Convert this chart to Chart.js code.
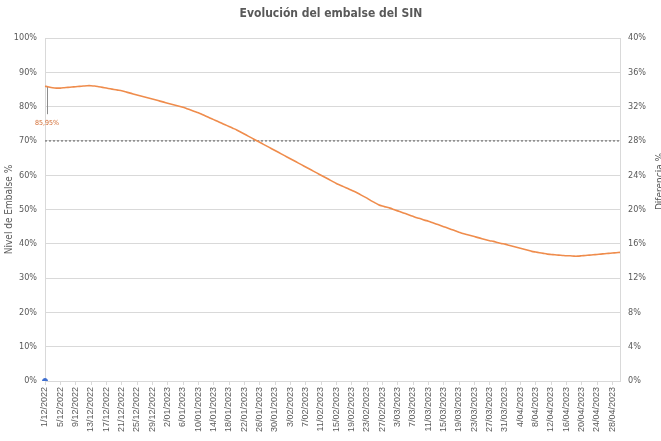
<!DOCTYPE html>
<html>
<head>
<meta charset="utf-8">
<script src="https://cdn.jsdelivr.net/npm/chart.js@4/dist/chart.umd.min.js"></script>
<style>
  html, body { margin: 0; padding: 0; background: #ffffff; }
  #wrap { width: 661px; height: 441px; position: relative; }
</style>
</head>
<body>
<div id="wrap"><canvas id="c" width="661" height="441"></canvas></div>
<script>
// Months covered by the daily series: [month, year, days]
const meses = [[12, 2022, 31], [1, 2023, 31], [2, 2023, 28], [3, 2023, 31], [4, 2023, 30]];

// Daily category labels, d/mm/yyyy
const fechas = [];
meses.forEach(([m, y, n]) => {
  for (let d = 1; d <= n; d++) fechas.push(d + '/' + String(m).padStart(2, '0') + '/' + y);
});

// Reservoir level of the SIN, % of capacity, one value per day (1/12/2022 .. 30/04/2023)
const nivelEmbalse = [
  85.95, 85.7, 85.5, 85.4, 85.4, 85.5, 85.6, 85.7, 85.8, 85.9,
  86.0, 86.1, 86.1, 86.0, 85.8, 85.6, 85.4, 85.2, 85.0, 84.8,
  84.6, 84.3, 84.0, 83.7, 83.4, 83.1, 82.8, 82.5, 82.2, 81.9,
  81.6, 81.3, 81.0, 80.7, 80.4, 80.1, 79.8, 79.4, 79.0, 78.6,
  78.2, 77.7, 77.2, 76.7, 76.2, 75.7, 75.2, 74.7, 74.2, 73.7,
  73.2, 72.6, 72.0, 71.4, 70.8, 70.2, 69.6, 69.0, 68.4, 67.8,
  67.2, 66.6, 66.0, 65.4, 64.8, 64.2, 63.6, 63.0, 62.4, 61.8,
  61.2, 60.6, 60.0, 59.4, 58.8, 58.2, 57.6, 57.1, 56.6, 56.1,
  55.6, 55.1, 54.5, 53.9, 53.3, 52.6, 52.0, 51.4, 51.0, 50.7,
  50.4, 50.0, 49.6, 49.2, 48.8, 48.4, 48.0, 47.6, 47.3, 46.9,
  46.6, 46.2, 45.8, 45.4, 45.0, 44.6, 44.2, 43.8, 43.4, 43.0,
  42.7, 42.4, 42.1, 41.8, 41.5, 41.2, 40.9, 40.7, 40.4, 40.1,
  39.9, 39.6, 39.3, 39.0, 38.7, 38.4, 38.1, 37.8, 37.6, 37.4,
  37.2, 37.0, 36.9, 36.8, 36.7, 36.6, 36.5, 36.5, 36.4, 36.4,
  36.5, 36.6, 36.7, 36.8, 36.9, 37.0, 37.1, 37.2, 37.3, 37.4,
  37.5
];

// Difference series (secondary axis): only the first day is reported
const diferencia = [0];

// Reference level drawn as a dotted line on the primary axis
const umbral = 70;

// Label shown for the first reservoir value
const etiquetaInicial = '85,95%';

const titulo = 'Evolución del embalse del SIN';
const tituloIzq = 'Nivel de Embalse %';
const tituloDer = 'Diferencia %';

const FONT = '"Liberation Sans Narrow", "DejaVu Sans Condensed", "Liberation Sans", sans-serif';
const FONT_X = '"Liberation Sans", Arial, sans-serif';
const GRIS = '#595959';
const REJILLA = '#d9d9d9';

const extras = {
  id: 'extras',
  beforeDatasetsDraw(chart) {
    const { ctx, chartArea, scales } = chart;
    const y = scales.y.getPixelForValue(umbral);
    ctx.save();
    ctx.strokeStyle = '#7a7a7a';
    ctx.lineWidth = 1.3;
    ctx.setLineDash([2, 2]);
    ctx.beginPath();
    ctx.moveTo(chartArea.left, y);
    ctx.lineTo(chartArea.right, y);
    ctx.stroke();
    ctx.restore();
  },
  afterDatasetsDraw(chart) {
    const { ctx, scales } = chart;
    const x0 = scales.x.getPixelForValue(0);
    const y0 = scales.y.getPixelForValue(nivelEmbalse[0]);
    ctx.save();
    // leader line and value label for the first point
    ctx.strokeStyle = '#8c8c8c';
    ctx.lineWidth = 1;
    ctx.beginPath();
    ctx.moveTo(x0 + 2.5, y0 + 1);
    ctx.lineTo(x0 + 2.5, y0 + 28);
    ctx.stroke();
    ctx.fillStyle = '#d2692e';
    ctx.font = '7px ' + FONT;
    ctx.textAlign = 'center';
    ctx.textBaseline = 'middle';
    ctx.fillText(etiquetaInicial, x0 + 2, y0 + 37);
    ctx.restore();
  },
  afterDraw(chart) {
    const { ctx, chartArea } = chart;
    ctx.save();
    ctx.fillStyle = GRIS;
    ctx.font = 'bold 12px ' + FONT;
    ctx.textAlign = 'center';
    ctx.textBaseline = 'middle';
    ctx.fillText(titulo, 331, 14);
    // secondary axis title, partly outside the canvas
    ctx.font = '10px ' + FONT;
    ctx.translate(660, (chartArea.top + chartArea.bottom) / 2 - 28);
    ctx.rotate(-Math.PI / 2);
    ctx.fillText(tituloDer, 0, 0);
    ctx.restore();
  }
};

new Chart(document.getElementById('c'), {
  type: 'line',
  data: {
    labels: fechas,
    datasets: [
      {
        label: 'Nivel de Embalse',
        data: nivelEmbalse,
        yAxisID: 'y',
        borderColor: '#ef8c4c',
        borderWidth: 1.6,
        pointRadius: 0,
        tension: 0.2,
        fill: false
      },
      {
        label: 'Diferencia',
        data: diferencia,
        yAxisID: 'y2',
        borderColor: '#3f6fd0',
        backgroundColor: '#3f6fd0',
        pointRadius: 2.5,
        showLine: false
      }
    ]
  },
  options: {
    responsive: false,
    animation: false,
    layout: { padding: { top: 38, left: 0, right: 0, bottom: 0 } },
    plugins: {
      legend: { display: false },
      tooltip: { enabled: false }
    },
    scales: {
      x: {
        offset: false,
        grid: { display: true, drawOnChartArea: false, drawTicks: true, tickLength: 4, color: REJILLA },
        border: { display: true, color: REJILLA },
        ticks: {
          autoSkip: false,
          minRotation: 90,
          maxRotation: 90,
          padding: 2,
          color: GRIS,
          font: { family: FONT_X, size: 9 },
          callback(v, i) { return i % 4 === 0 ? fechas[i] : null; }
        },
        afterFit(s) { s.height = 60; }
      },
      y: {
        position: 'left',
        min: 0,
        max: 100,
        grid: { color: REJILLA, drawTicks: false },
        border: { display: true, color: REJILLA },
        ticks: {
          stepSize: 10,
          padding: 8,
          color: GRIS,
          font: { family: FONT, size: 9 },
          callback(v) { return v + '%'; }
        },
        title: {
          display: true,
          text: tituloIzq,
          color: GRIS,
          font: { family: FONT, size: 10 },
          padding: { top: 3, bottom: 0 }
        },
        afterFit(s) { s.width = 45; }
      },
      y2: {
        position: 'right',
        min: 0,
        max: 40,
        grid: { drawOnChartArea: false, drawTicks: false },
        border: { display: true, color: REJILLA },
        ticks: {
          stepSize: 4,
          padding: 8,
          color: GRIS,
          font: { family: FONT, size: 9 },
          callback(v) { return v + '%'; }
        },
        afterFit(s) { s.width = 41; }
      }
    }
  },
  plugins: [extras]
});
</script>
</body>
</html>
